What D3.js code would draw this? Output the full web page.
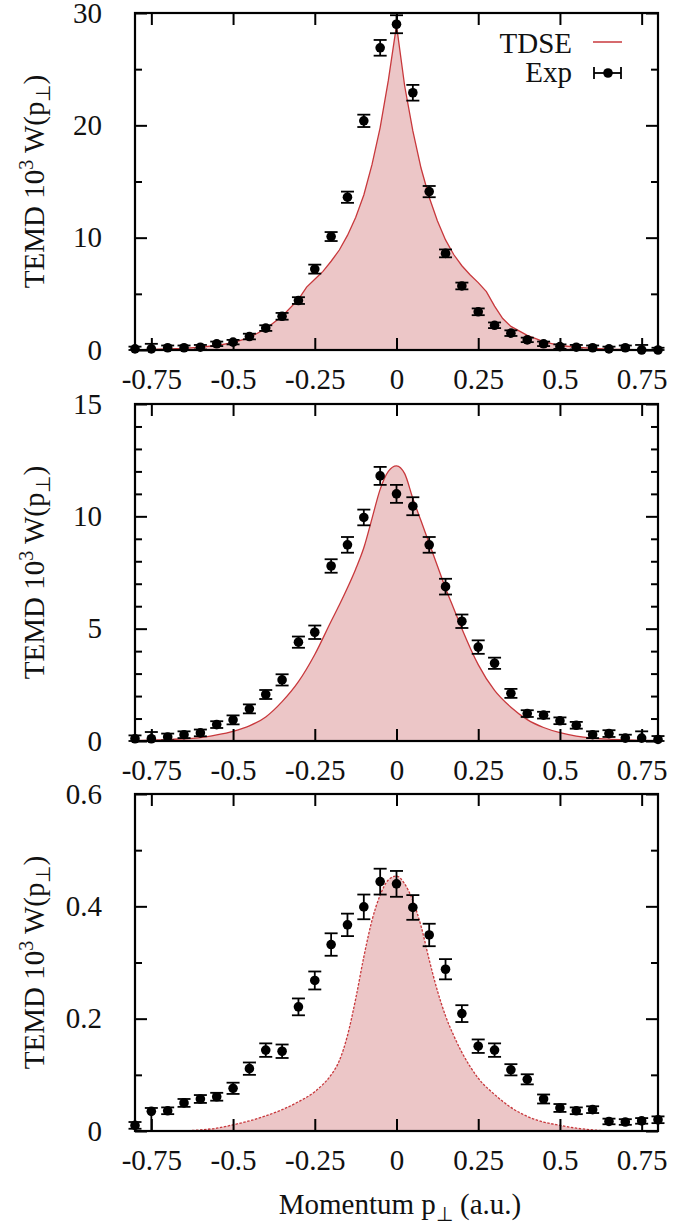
<!DOCTYPE html>
<html>
<head>
<meta charset="utf-8">
<script src="https://cdn.jsdelivr.net/npm/d3@7"></script>
<style>
  html, body { margin: 0; padding: 0; background: #fff; }
  svg { display: block; }
  svg text { font-family: "Liberation Serif", "Times New Roman", serif !important; fill: #111; }
</style>
</head>
<body>
<svg id="chart" width="675" height="1229"></svg>
<script>
// ---------------- DATA ----------------
const xTicks = [-0.75, -0.5, -0.25, 0, 0.25, 0.5, 0.75];
const xTickLabels = ["-0.75", "-0.5", "-0.25", "0", "0.25", "0.5", "0.75"];

// experimental momentum grid
const pExp = [-0.8, -0.75, -0.7, -0.65, -0.6, -0.55, -0.5, -0.45, -0.4, -0.35, -0.3, -0.25, -0.2, -0.15, -0.1, -0.05,
  0, 0.05, 0.1, 0.15, 0.2, 0.25, 0.3, 0.35, 0.4, 0.45, 0.5, 0.55, 0.6, 0.65, 0.7, 0.75, 0.8];

// Panel 1 (top)
const yTicks1 = [0, 10, 20, 30];
const yTickLabels1 = ["0", "10", "20", "30"];
const yMinor1 = [5, 15, 25];
const exp1 = [0.1, 0.1, 0.2, 0.2, 0.25, 0.55, 0.7, 1.2, 1.95, 3.0, 4.4, 7.2, 10.1, 13.6, 20.4, 26.9,
  29.0, 22.9, 14.1, 8.6, 5.7, 3.4, 2.2, 1.5, 0.9, 0.55, 0.3, 0.25, 0.2, 0.1, 0.2, 0.0, 0.0];
const err1 = [0.2, 0.45, 0.2, 0.2, 0.2, 0.2, 0.2, 0.25, 0.25, 0.3, 0.3, 0.4, 0.4, 0.5, 0.55, 0.7,
  0.8, 0.7, 0.5, 0.35, 0.3, 0.3, 0.25, 0.25, 0.2, 0.2, 0.2, 0.2, 0.2, 0.2, 0.2, 0.45, 0.2];
const pTdse1 = [-0.8, -0.75, -0.7, -0.65, -0.6, -0.55, -0.5, -0.45, -0.4, -0.35, -0.3, -0.275, -0.25, -0.225, -0.2,
  -0.175, -0.15, -0.125, -0.1, -0.075, -0.05, -0.025, 0, 0.025, 0.05, 0.075, 0.1, 0.125, 0.15, 0.175, 0.2,
  0.225, 0.25, 0.275, 0.3, 0.325, 0.35, 0.4, 0.45, 0.5, 0.55, 0.6, 0.65, 0.7, 0.75, 0.8];
const tdse1 = [0.0, 0.05, 0.1, 0.15, 0.25, 0.4, 0.65, 1.1, 1.9, 3.0, 4.5, 5.6, 6.3, 7.0, 7.9,
  8.9, 10.2, 11.8, 13.8, 16.5, 19.8, 24.0, 28.9, 23.5, 19.5, 16.2, 13.6, 11.5, 9.8, 8.5, 7.5,
  6.7, 6.0, 5.2, 3.9, 2.8, 2.1, 1.3, 0.75, 0.4, 0.25, 0.15, 0.08, 0.05, 0.02, 0.0];

// Panel 2 (middle)
const yTicks2 = [0, 5, 10, 15];
const yTickLabels2 = ["0", "5", "10", "15"];
const yMinor2 = [1, 2, 3, 4, 6, 7, 8, 9, 11, 12, 13, 14];
const exp2 = [0.1, 0.1, 0.18, 0.28, 0.36, 0.73, 0.94, 1.43, 2.07, 2.72, 4.4, 4.84, 7.79, 8.73, 9.95, 11.8,
  11.0, 10.45, 8.73, 6.87, 5.33, 4.18, 3.46, 2.12, 1.22, 1.15, 0.9, 0.7, 0.28, 0.33, 0.13, 0.13, 0.07];
const err2 = [0.15, 0.3, 0.15, 0.15, 0.15, 0.15, 0.2, 0.2, 0.2, 0.25, 0.25, 0.3, 0.3, 0.35, 0.35, 0.4,
  0.4, 0.4, 0.35, 0.35, 0.3, 0.3, 0.25, 0.2, 0.15, 0.15, 0.15, 0.15, 0.15, 0.15, 0.15, 0.3, 0.15];
const pTdse2 = [-0.8, -0.75, -0.7, -0.65, -0.6, -0.55, -0.5, -0.45, -0.4, -0.35, -0.3, -0.25, -0.2, -0.175, -0.15,
  -0.125, -0.1, -0.075, -0.05, -0.025, 0, 0.025, 0.05, 0.075, 0.1, 0.125, 0.15, 0.175, 0.2, 0.25, 0.3,
  0.35, 0.4, 0.45, 0.5, 0.55, 0.6, 0.65, 0.7, 0.75, 0.8];
const tdse2 = [0.02, 0.04, 0.06, 0.1, 0.15, 0.27, 0.43, 0.67, 1.07, 1.75, 2.64, 3.85, 5.33, 6.05, 6.82,
  7.65, 8.6, 9.9, 11.2, 12.0, 12.25, 11.9, 10.8, 9.8, 8.8, 7.8, 6.8, 5.9, 5.0, 3.4, 2.25,
  1.5, 0.95, 0.6, 0.37, 0.22, 0.13, 0.08, 0.05, 0.03, 0.02];

// Panel 3 (bottom)
const yTicks3 = [0, 0.2, 0.4, 0.6];
const yTickLabels3 = ["0", "0.2", "0.4", "0.6"];
const yMinor3 = [0.1, 0.3, 0.5];
const exp3 = [0.010, 0.035, 0.036, 0.05, 0.057, 0.061, 0.076, 0.111, 0.144, 0.142, 0.221, 0.268, 0.332, 0.367, 0.399, 0.444,
  0.44, 0.398, 0.349, 0.288, 0.209, 0.151, 0.144, 0.109, 0.092, 0.057, 0.041, 0.036, 0.038, 0.017, 0.016, 0.018, 0.020];
const errLo3 = [0.006, 0.035, 0.006, 0.007, 0.007, 0.007, 0.01, 0.011, 0.012, 0.012, 0.015, 0.016, 0.02, 0.02, 0.022, 0.023,
  0.023, 0.022, 0.02, 0.018, 0.015, 0.012, 0.012, 0.01, 0.009, 0.008, 0.007, 0.006, 0.006, 0.005, 0.005, 0.005, 0.006];
const errHi3 = [0.006, 0.006, 0.006, 0.007, 0.007, 0.007, 0.01, 0.011, 0.012, 0.012, 0.015, 0.016, 0.02, 0.02, 0.022, 0.023,
  0.023, 0.022, 0.02, 0.018, 0.015, 0.012, 0.012, 0.01, 0.009, 0.008, 0.007, 0.006, 0.006, 0.005, 0.005, 0.005, 0.006];
const pTdse3 = [-0.65, -0.6, -0.55, -0.5, -0.45, -0.4, -0.35, -0.3, -0.25, -0.225, -0.2, -0.175, -0.15, -0.125, -0.1,
  -0.075, -0.05, -0.025, 0, 0.025, 0.05, 0.075, 0.1, 0.125, 0.15, 0.175, 0.2, 0.225, 0.25, 0.3, 0.35,
  0.4, 0.45, 0.5, 0.55, 0.6, 0.65];
const tdse3 = [0.0, 0.002, 0.005, 0.011, 0.018, 0.027, 0.038, 0.052, 0.07, 0.083, 0.1, 0.125, 0.17, 0.235, 0.31,
  0.375, 0.42, 0.447, 0.454, 0.44, 0.41, 0.365, 0.305, 0.25, 0.205, 0.17, 0.14, 0.115, 0.094, 0.065, 0.042,
  0.026, 0.016, 0.01, 0.005, 0.002, 0.0];

const legendLabels = ["TDSE", "Exp"];
const xLabel = "Momentum p";
const yLabelMain = "TEMD 10";

// ---------------- LAYOUT ----------------
const W = 675, H = 1229;
const left = 135, right = 658;
const panelTops = [13, 404, 794];
const panelH = 337;
const fillColor = "#ecc6c7";
const lineColor = "#c8383c";
const FS = 29;
const SERIF = '"Liberation Serif", "Times New Roman", serif';

const panels = [
  { yMax: 30, yTicks: yTicks1, yLabels: yTickLabels1, yMinor: yMinor1, exp: exp1, lo: err1, hi: err1,
    pT: pTdse1, tdse: tdse1, curve: d3.curveLinear, dash: null, legend: true },
  { yMax: 15, yTicks: yTicks2, yLabels: yTickLabels2, yMinor: yMinor2, exp: exp2, lo: err2, hi: err2,
    pT: pTdse2, tdse: tdse2, curve: d3.curveMonotoneX, dash: null, legend: false },
  { yMax: 0.6, yTicks: yTicks3, yLabels: yTickLabels3, yMinor: yMinor3, exp: exp3, lo: errLo3, hi: errHi3,
    pT: pTdse3, tdse: tdse3, curve: d3.curveMonotoneX, dash: "2.5,1.5", legend: false }
];

const svg = d3.select("#chart").attr("font-family", SERIF);
svg.append("rect").attr("width", W).attr("height", H).attr("fill", "#fff");

const x = d3.scaleLinear().domain([-0.8, 0.8]).range([left, right]);

panels.forEach((P, i) => {
  const top = panelTops[i], bottom = top + panelH;
  const y = d3.scaleLinear().domain([0, P.yMax]).range([bottom, top]);
  const g = svg.append("g");

  const clipId = "clip" + i;
  svg.append("defs").append("clipPath").attr("id", clipId)
    .append("rect").attr("x", left).attr("y", top).attr("width", right - left).attr("height", panelH);

  // TDSE area + line
  const td = P.pT.map((p, k) => [p, P.tdse[k]]);
  const area = d3.area().x(d => x(d[0])).y0(y(0)).y1(d => y(d[1])).curve(P.curve);
  const line = d3.line().x(d => x(d[0])).y(d => y(d[1])).curve(P.curve);
  const cg = g.append("g").attr("clip-path", `url(#${clipId})`);
  cg.append("path").attr("d", area(td)).attr("fill", fillColor);
  cg.append("path").attr("d", line(td)).attr("fill", "none").attr("stroke", lineColor)
    .attr("stroke-width", 1.3).attr("stroke-dasharray", P.dash);

  // Axes (ticks inward)
  const axB = d3.axisBottom(x).tickValues(xTicks).tickSize(-12).tickFormat((d, k) => xTickLabels[k]).tickPadding(18);
  const axT = d3.axisTop(x).tickValues(xTicks).tickSize(-12).tickFormat("");
  const axL = d3.axisLeft(y).tickValues(P.yTicks).tickSize(-12).tickFormat((d, k) => P.yLabels[k]).tickPadding(33);
  const axR = d3.axisRight(y).tickValues(P.yTicks).tickSize(-12).tickFormat("");
  const axLm = d3.axisLeft(y).tickValues(P.yMinor).tickSize(-7).tickFormat("");
  const axRm = d3.axisRight(y).tickValues(P.yMinor).tickSize(-7).tickFormat("");

  const style = sel => {
    sel.attr("font-family", SERIF).attr("font-size", FS);
    sel.select(".domain").remove();
    sel.selectAll(".tick line").attr("stroke", "#000").attr("stroke-width", 2);
    sel.selectAll(".tick text").attr("font-size", FS).attr("fill", "#111").attr("font-family", SERIF);
  };
  g.append("g").attr("transform", `translate(0,${bottom})`).call(axB).call(style);
  g.append("g").attr("transform", `translate(0,${top})`).call(axT).call(style);
  g.append("g").attr("transform", `translate(${left},0)`).call(axL).call(style);
  g.append("g").attr("transform", `translate(${right},0)`).call(axR).call(style);
  g.append("g").attr("transform", `translate(${left},0)`).call(axLm).call(style);
  g.append("g").attr("transform", `translate(${right},0)`).call(axRm).call(style);

  // Frame
  g.append("rect").attr("x", left).attr("y", top).attr("width", right - left).attr("height", panelH)
    .attr("fill", "none").attr("stroke", "#000").attr("stroke-width", 2.2);

  // Experimental points with error bars
  const eg = g.append("g");
  const pts = pExp.map((p, k) => ({ p, v: P.exp[k], lo: P.lo[k], hi: P.hi[k] }));
  const capW = 6.5;
  const eb = eg.selectAll("g.eb").data(pts).join("g").attr("class", "eb");
  eb.append("line").attr("x1", d => x(d.p)).attr("x2", d => x(d.p))
    .attr("y1", d => y(Math.max(0, d.v - d.lo))).attr("y2", d => y(d.v + d.hi))
    .attr("stroke", "#000").attr("stroke-width", 1.8);
  eb.append("line").attr("x1", d => x(d.p) - capW).attr("x2", d => x(d.p) + capW)
    .attr("y1", d => y(d.v + d.hi)).attr("y2", d => y(d.v + d.hi))
    .attr("stroke", "#000").attr("stroke-width", 1.8);
  eb.append("line").attr("x1", d => x(d.p) - capW).attr("x2", d => x(d.p) + capW)
    .attr("y1", d => y(Math.max(0, d.v - d.lo))).attr("y2", d => y(Math.max(0, d.v - d.lo)))
    .attr("stroke", "#000").attr("stroke-width", 1.8);
  eb.append("circle").attr("cx", d => x(d.p)).attr("cy", d => y(d.v)).attr("r", 4.8).attr("fill", "#000");

  // Y axis title (rotated)
  const cy = (top + bottom) / 2;
  const t = svg.append("text").attr("transform", `translate(44,${cy}) rotate(-90)`)
    .attr("text-anchor", "middle").attr("font-size", FS);
  t.append("tspan").text(yLabelMain);
  t.append("tspan").attr("font-size", 20).attr("dy", -11).text("3");
  t.append("tspan").attr("dy", 11).text(" W(p");
  t.append("tspan").attr("font-size", 20).attr("dy", 6).text("\u22A5");
  t.append("tspan").attr("dy", -6).text(")");

  // Legend
  if (P.legend) {
    const lx = 572;
    svg.append("text").attr("x", lx).attr("y", 53).attr("text-anchor", "end").attr("font-size", FS).text(legendLabels[0]);
    svg.append("text").attr("x", lx).attr("y", 82).attr("text-anchor", "end").attr("font-size", FS).text(legendLabels[1]);
    svg.append("line").attr("x1", 593).attr("x2", 622).attr("y1", 42).attr("y2", 42)
      .attr("stroke", lineColor).attr("stroke-width", 1.5);
    const ly = 73;
    svg.append("line").attr("x1", 594).attr("x2", 621).attr("y1", ly).attr("y2", ly).attr("stroke", "#000").attr("stroke-width", 1.8);
    svg.append("line").attr("x1", 594).attr("x2", 594).attr("y1", ly - 6).attr("y2", ly + 6).attr("stroke", "#000").attr("stroke-width", 1.8);
    svg.append("line").attr("x1", 621).attr("x2", 621).attr("y1", ly - 6).attr("y2", ly + 6).attr("stroke", "#000").attr("stroke-width", 1.8);
    svg.append("circle").attr("cx", 608).attr("cy", ly).attr("r", 4.8).attr("fill", "#000");
  }
});

// X axis title
const xt = svg.append("text").attr("x", 400).attr("y", 1214).attr("text-anchor", "middle").attr("font-size", FS);
xt.append("tspan").text(xLabel);
xt.append("tspan").attr("font-size", 20).attr("dy", 7).text("\u22A5");
xt.append("tspan").attr("dy", -7).text(" (a.u.)");
</script>
</body>
</html>
